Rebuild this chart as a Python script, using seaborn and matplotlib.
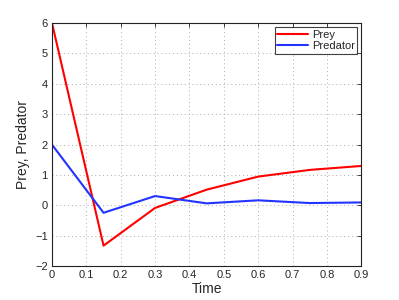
import numpy as np
import pandas as pd
import matplotlib
matplotlib.use("Agg")
import matplotlib.pyplot as plt
import seaborn as sns

time = [0, 0.15, 0.3, 0.45, 0.6, 0.75, 0.9]
prey = [6.0, -1.32, -0.08, 0.52, 0.95, 1.17, 1.30]
predator = [2.0, -0.24, 0.31, 0.07, 0.17, 0.08, 0.10]
series_names = ["Prey", "Predator"]
colors = ["#ff0000", "#2233ff"]

df = pd.DataFrame({
    "Time": time * 2,
    "value": prey + predator,
    "series": [series_names[0]] * len(time) + [series_names[1]] * len(time),
})

sns.set_style("white")
plt.rcParams['font.family'] = ['Liberation Sans', 'DejaVu Sans']
plt.rcParams['xtick.direction'] = 'in'
plt.rcParams['ytick.direction'] = 'in'

fig = plt.figure(figsize=(3.99, 3.0), dpi=100)
ax = fig.add_axes([0.1303, 0.1123, 0.7752, 0.811])
sns.lineplot(data=df, x="Time", y="value", hue="series", palette=colors,
             linewidth=1.5, ax=ax)

ax.set_xlim(0, 0.9)
ax.set_ylim(-2, 6)
ax.set_xticks(np.arange(0, 0.91, 0.1))
ax.set_xticklabels(["0"] + [f"{v:.1f}" for v in np.arange(0.1, 0.91, 0.1)])
ax.set_yticks(range(-2, 7))
ax.set_yticklabels([str(v).replace("-", "\u2212") for v in range(-2, 7)])
ax.tick_params(axis='both', labelsize=8, length=3, width=0.6, color='#222222',
               top=True, right=True, pad=3)
ax.grid(True, linestyle=(0, (1, 3)), color='#aaaaaa', linewidth=0.7)
for s in ax.spines.values():
    s.set_color('#222222')
    s.set_linewidth(0.8)
ax.set_xlabel("Time", fontsize=10, labelpad=1)
ax.set_ylabel("Prey, Predator", fontsize=10, labelpad=4)

leg = ax.legend(loc="upper right", fontsize=8, frameon=True, fancybox=False,
                borderaxespad=0.4, handlelength=2.8, borderpad=0.2,
                labelspacing=0.15, handletextpad=0.3)
leg.get_frame().set_edgecolor('#111111')
leg.get_frame().set_linewidth(0.8)

fig.savefig("out.png", dpi=100)
